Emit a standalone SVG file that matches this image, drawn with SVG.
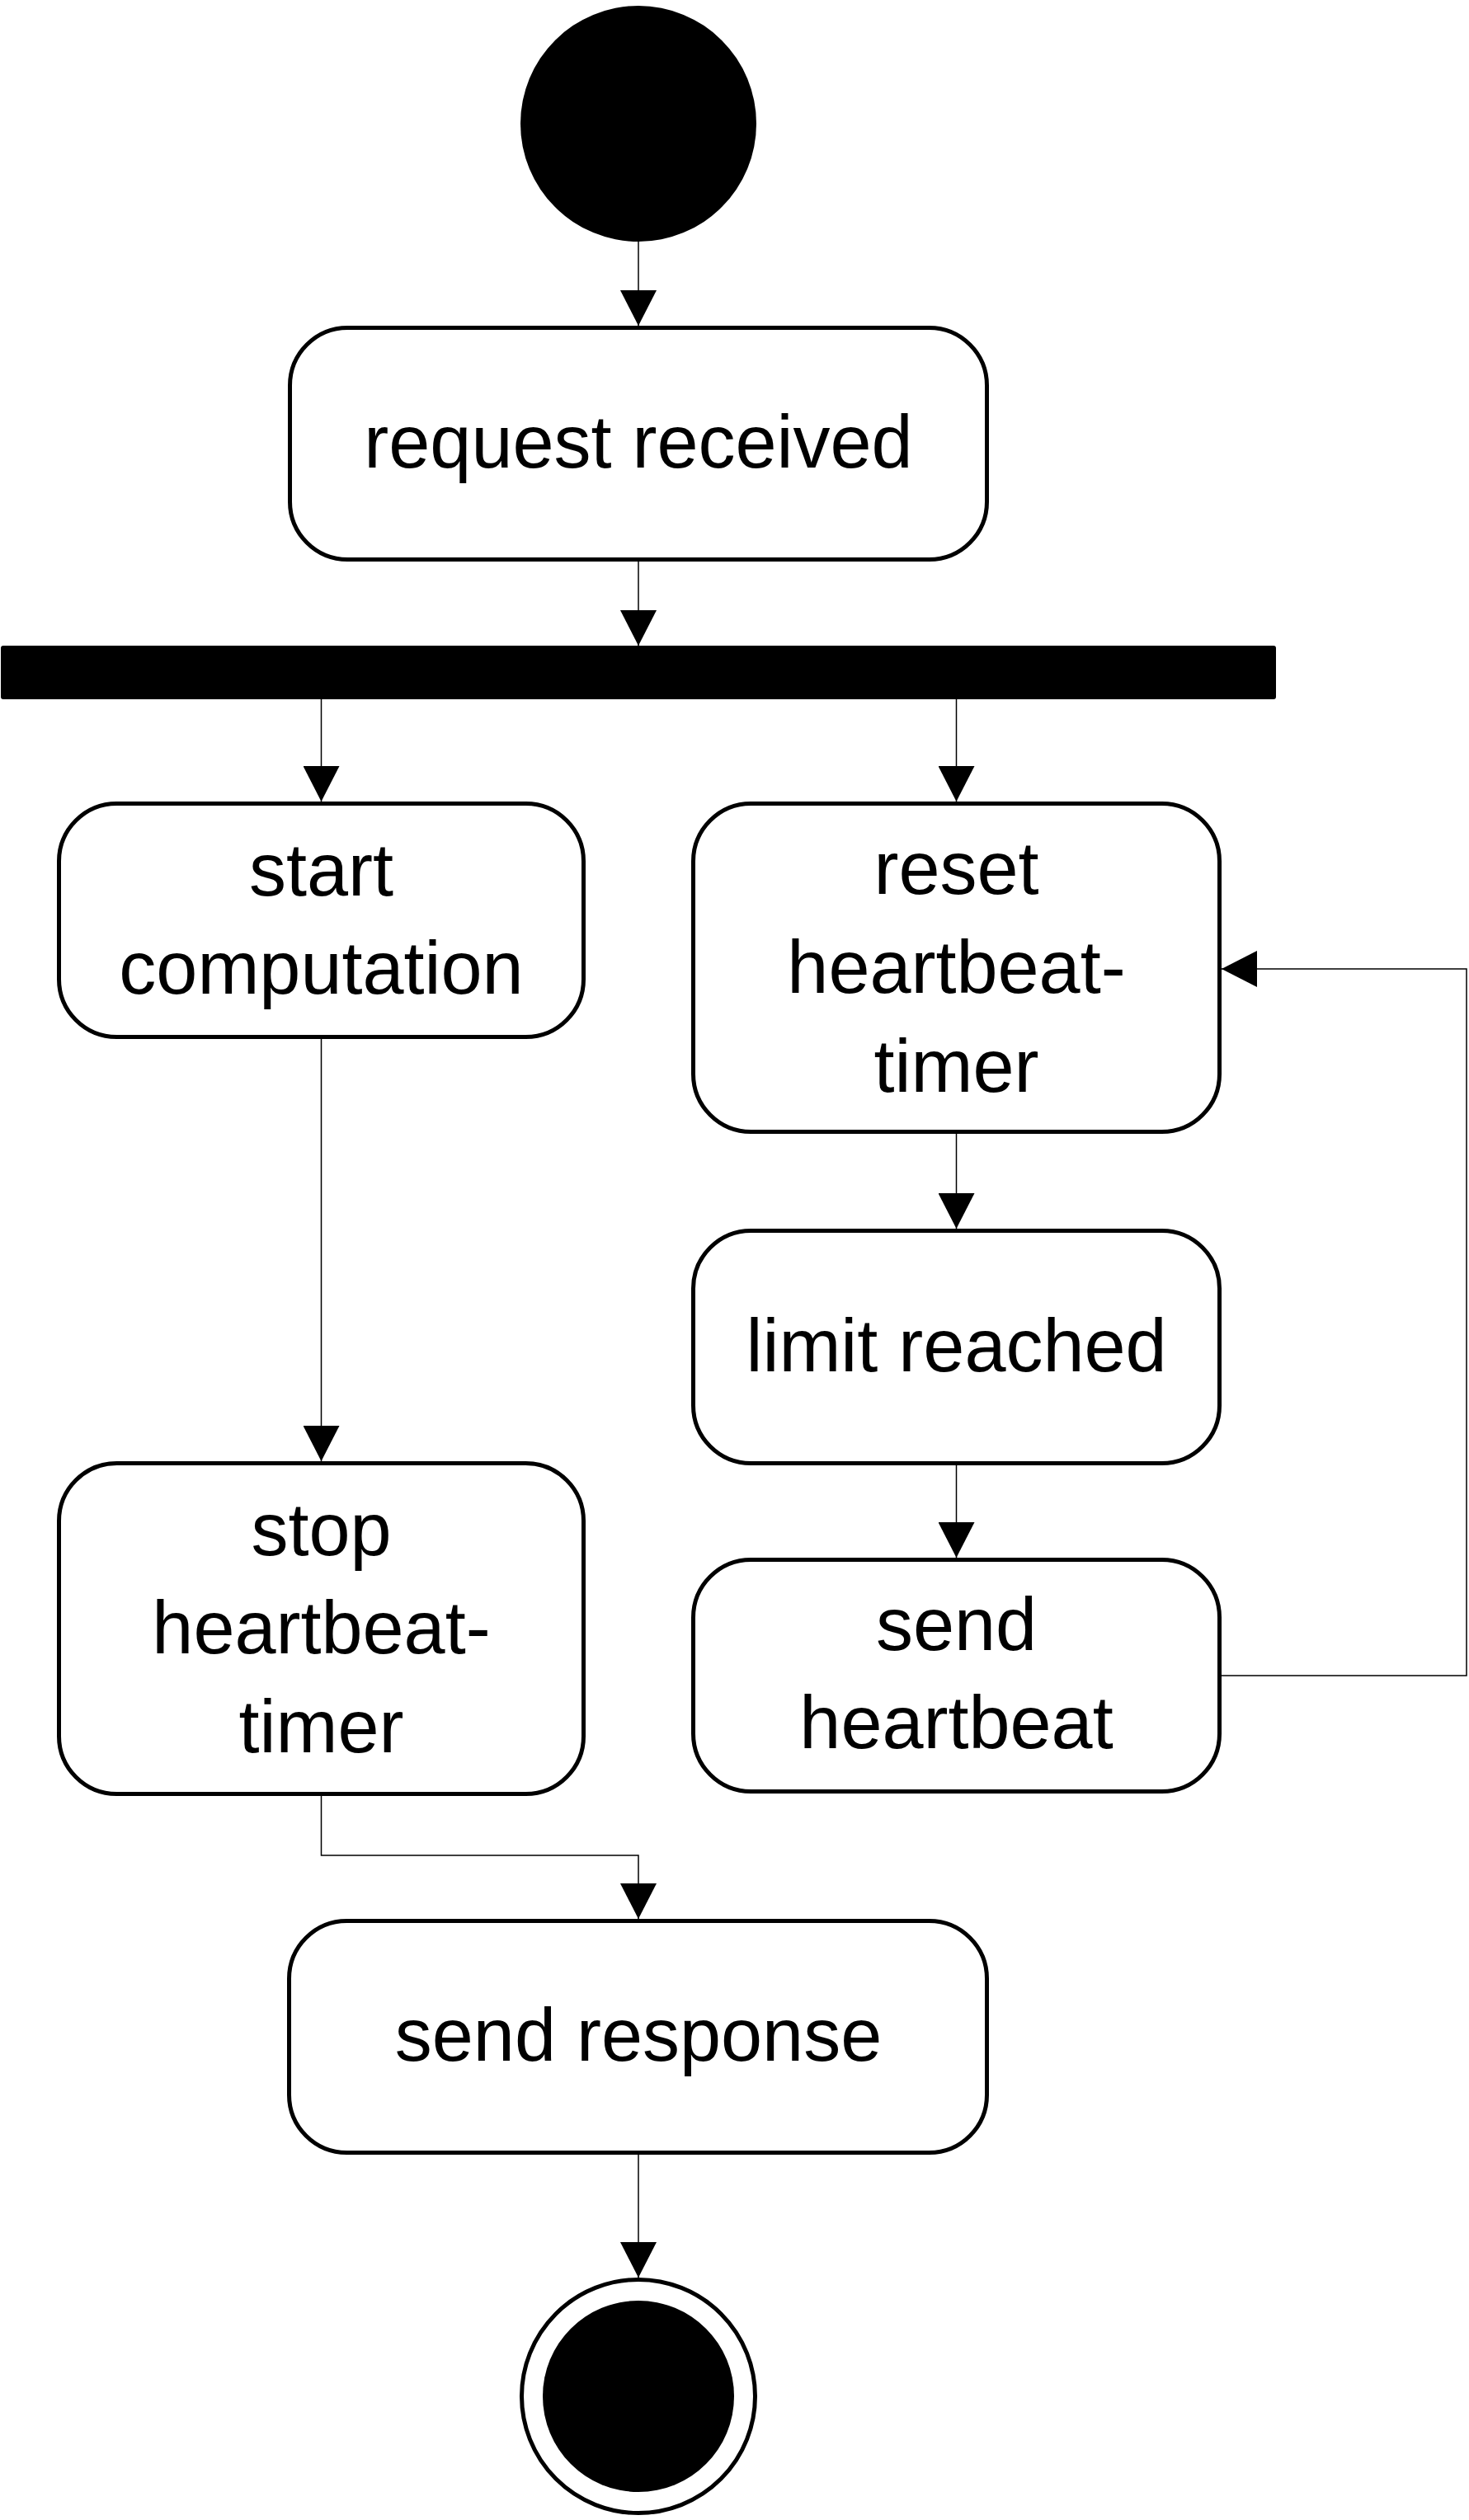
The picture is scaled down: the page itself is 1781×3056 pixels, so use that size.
<svg xmlns="http://www.w3.org/2000/svg" width="1781" height="3056" viewBox="0 0 1781 3056">
  <style>
    .box { fill: #ffffff; stroke: #000000; stroke-width: 5; }
    .lbl { font-family: "Liberation Sans", Arial, sans-serif; font-size: 90px; fill: #000000; text-anchor: middle; }
    .edge { fill: none; stroke: #000000; stroke-width: 1.5; marker-end: url(#arrow); }
    .plain { fill: none; stroke: #000000; stroke-width: 1.5; }
  </style>
  <defs>
    <marker id="arrow" markerUnits="userSpaceOnUse" markerWidth="44" markerHeight="44" refX="43" refY="22" orient="auto" viewBox="0 0 44 44">
      <path d="M0,0 L43,22 L0,44 Z" fill="#000000"/>
    </marker>
  </defs>
  <rect x="0" y="0" width="1781" height="3056" fill="#ffffff"/>

  <g id="connectors">
    <line class="edge" x1="774" y1="293" x2="774" y2="395"/>
    <line class="edge" x1="774" y1="681" x2="774" y2="783"/>
    <line class="edge" x1="389.5" y1="848" x2="389.5" y2="972"/>
    <line class="edge" x1="1159.5" y1="848" x2="1159.5" y2="972"/>
    <line class="edge" x1="389.5" y1="1260" x2="389.5" y2="1772"/>
    <line class="edge" x1="1159.5" y1="1375" x2="1159.5" y2="1490"/>
    <line class="edge" x1="1159.5" y1="1777" x2="1159.5" y2="1889"/>
    <path class="edge" d="M1481,2032 L1778,2032 L1778,1175 L1481,1175"/>
    <path class="edge" d="M389.5,2178 L389.5,2250 L774,2250 L774,2327"/>
    <line class="edge" x1="774" y1="2613" x2="774" y2="2762"/>
  </g>

  <g id="start">
    <circle cx="774" cy="150" r="143" fill="#000000"/>
  </g>

  <g id="request-received">
    <rect class="box" x="351.5" y="397.5" width="845" height="281" rx="70" ry="70"/>
    <text class="lbl" x="774" y="567">request received</text>
  </g>

  <g id="fork">
    <rect x="1" y="783" width="1546" height="65" rx="3" ry="3" fill="#000000"/>
  </g>

  <g id="start-computation">
    <rect class="box" x="71.5" y="974.5" width="636" height="283" rx="70" ry="70"/>
    <text class="lbl" x="389.5" y="1086">start</text>
    <text class="lbl" x="389.5" y="1205">computation</text>
  </g>

  <g id="reset-heartbeat-timer">
    <rect class="box" x="840.5" y="974.5" width="638" height="398" rx="70" ry="70"/>
    <text class="lbl" x="1159.5" y="1084">reset</text>
    <text class="lbl" x="1159.5" y="1204">heartbeat-</text>
    <text class="lbl" x="1159.5" y="1324">timer</text>
  </g>

  <g id="limit-reached">
    <rect class="box" x="840.5" y="1492.5" width="638" height="282" rx="70" ry="70"/>
    <text class="lbl" x="1159.5" y="1663">limit reached</text>
  </g>

  <g id="send-heartbeat">
    <rect class="box" x="840.5" y="1891.5" width="638" height="281" rx="70" ry="70"/>
    <text class="lbl" x="1159.5" y="2001">send</text>
    <text class="lbl" x="1159.5" y="2120">heartbeat</text>
  </g>

  <g id="stop-heartbeat-timer">
    <rect class="box" x="71.5" y="1774.5" width="636" height="401" rx="70" ry="70"/>
    <text class="lbl" x="389.5" y="1886">stop</text>
    <text class="lbl" x="389.5" y="2005">heartbeat-</text>
    <text class="lbl" x="389.5" y="2125">timer</text>
  </g>

  <g id="send-response">
    <rect class="box" x="350.5" y="2329.5" width="846" height="281" rx="70" ry="70"/>
    <text class="lbl" x="774" y="2499">send response</text>
  </g>

  <g id="end">
    <circle cx="774" cy="2906" r="141.5" fill="#ffffff" stroke="#000000" stroke-width="5"/>
    <circle cx="774" cy="2906" r="116" fill="#000000"/>
  </g>
</svg>
